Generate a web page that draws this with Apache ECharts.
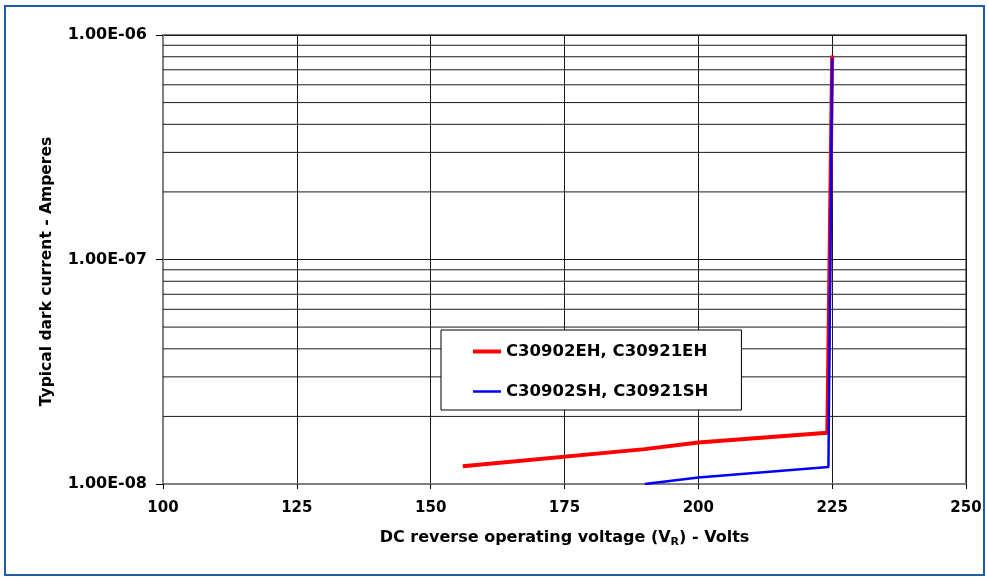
<!DOCTYPE html>
<html>
<head>
<meta charset="utf-8">
<script src="https://cdn.jsdelivr.net/npm/echarts@6/dist/echarts.min.js"></script>
<style>
  html, body { margin: 0; padding: 0; background: #ffffff; }
  #chart { width: 988px; height: 582px; }
</style>
</head>
<body>
<div id="chart"></div>
<script>
// ---- data ----
const seriesNames = ['C30902EH, C30921EH', 'C30902SH, C30921SH'];
const ehVoltage = [156, 190, 200, 224.1, 225];
const ehCurrent = [1.2e-8, 1.43e-8, 1.53e-8, 1.69e-8, 8.1e-7];
const shVoltage = [190, 200, 224.3, 225];
const shCurrent = [1.0e-8, 1.07e-8, 1.19e-8, 7.9e-7];
const yTickLabels = ['1.00E-08', '1.00E-07', '1.00E-06'];
const xRange = [100, 250];
const minorGridValues = [2e-8, 3e-8, 4e-8, 5e-8, 6e-8, 7e-8, 8e-8, 9e-8,
                         2e-7, 3e-7, 4e-7, 5e-7, 6e-7, 7e-7, 8e-7, 9e-7];

const FONT = 'DejaVu Sans';
const pair = (xs, ys) => xs.map((x, i) => [x, ys[i]]);

// minor horizontal grid lines (log minor levels), drawn through the axes
const gridSeries = minorGridValues.map((v, i) => ({
  name: 'grid' + i, type: 'line', silent: true, z: 1,
  data: [[xRange[0], v], [xRange[1], v]],
  showSymbol: false, symbol: 'none',
  lineStyle: { color: '#1a1a1a', width: 1 },
  emphasis: { disabled: true },
  tooltip: { show: false }
}));

const chart = echarts.init(document.getElementById('chart'), null, { renderer: 'canvas' });
chart.setOption({
  animation: false,
  backgroundColor: '#ffffff',
  graphic: [{
    type: 'rect', silent: true, z: 100,
    shape: { x: 5, y: 6, width: 979, height: 569 },
    style: { fill: 'none', stroke: '#1d5ca6', lineWidth: 2 }
  }],
  grid: {
    left: 163, right: 22, top: 35, bottom: 98, containLabel: false,
    show: true, borderColor: '#808080', borderWidth: 2, backgroundColor: 'transparent'
  },
  legend: {
    orient: 'vertical',
    left: 441, top: 330, z: 10,
    padding: [13, 33, 10, 32],
    itemGap: 23,
    itemWidth: 28, itemHeight: 4,
    backgroundColor: '#ffffff',
    borderColor: '#000000', borderWidth: 1,
    textStyle: { fontFamily: FONT, fontWeight: 'bold', fontSize: 16.5, color: '#000000' },
    data: [
      { name: seriesNames[0], icon: 'rect', itemStyle: { color: '#ff0000' } },
      { name: seriesNames[1], icon: 'path://M0,0M0,0.75L28,0.75L28,3.25L0,3.25ZM28,4', itemStyle: { color: '#0000ff' } }
    ]
  },
  xAxis: {
    type: 'value', min: xRange[0], max: xRange[1], interval: 25,
    name: 'DC reverse operating voltage (V{sub|R}) - Volts',
    nameLocation: 'middle', nameGap: 44,
    nameTextStyle: {
      fontFamily: FONT, fontWeight: 'bold', fontSize: 16, color: '#000000',
      rich: { sub: { fontFamily: FONT, fontWeight: 'bold', fontSize: 11, color: '#000000', padding: [9, 0, 0, 0] } }
    },
    axisLine: { show: true, lineStyle: { color: '#808080', width: 2 } },
    axisTick: { show: true, inside: false, length: 5, lineStyle: { color: '#000000', width: 1 } },
    axisLabel: { margin: 17, fontFamily: FONT, fontWeight: 'bold', fontSize: 15, color: '#000000' },
    splitLine: { show: true, showMinLine: false, lineStyle: { color: '#1a1a1a', width: 1 } }
  },
  yAxis: {
    type: 'log', logBase: 10, min: 1e-8, max: 1e-6,
    name: 'Typical dark current - Amperes',
    nameLocation: 'middle', nameGap: 108, nameRotate: 90,
    nameTextStyle: { fontFamily: FONT, fontWeight: 'bold', fontSize: 15.5, color: '#000000', padding: [0, 24, 0, 0] },
    axisLine: { show: true, lineStyle: { color: '#808080', width: 2 } },
    axisTick: { show: true, inside: false, length: 7, lineStyle: { color: '#000000', width: 1 } },
    axisLabel: {
      margin: 16, fontFamily: FONT, fontWeight: 'bold', fontSize: 16, color: '#000000',
      formatter: (v, i) => yTickLabels[i]
    },
    splitLine: { show: true, showMinLine: false, showMaxLine: false, lineStyle: { color: '#1a1a1a', width: 1 } }
  },
  series: gridSeries.concat([
    {
      name: seriesNames[0], type: 'line', data: pair(ehVoltage, ehCurrent),
      showSymbol: false, symbol: 'none', z: 3,
      lineStyle: { color: '#ff0000', width: 4 }, itemStyle: { color: '#ff0000' }
    },
    {
      name: seriesNames[1], type: 'line', data: pair(shVoltage, shCurrent),
      showSymbol: false, symbol: 'none', z: 4,
      lineStyle: { color: '#0000ff', width: 2.5 }, itemStyle: { color: '#0000ff' }
    }
  ])
});
</script>
</body>
</html>
